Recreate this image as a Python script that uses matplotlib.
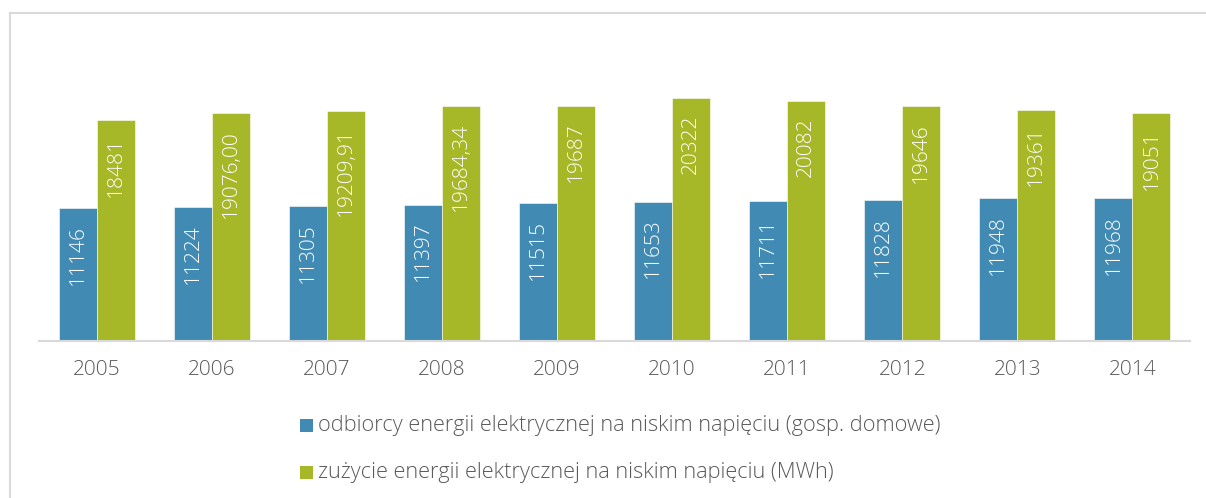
import matplotlib
matplotlib.use("Agg")
import matplotlib.pyplot as plt
from matplotlib.patches import Rectangle
from matplotlib.lines import Line2D
import numpy as np

years = ["2005", "2006", "2007", "2008", "2009", "2010", "2011", "2012", "2013", "2014"]
odbiorcy = [11146, 11224, 11305, 11397, 11515, 11653, 11711, 11828, 11948, 11968]
zuzycie = [18481, 19076.00, 19209.91, 19684.34, 19687, 20322, 20082, 19646, 19361, 19051]
zuzycie_labels = ["18481", "19076,00", "19209,91", "19684,34", "19687", "20322", "20082", "19646", "19361", "19051"]
odbiorcy_labels = [str(v) for v in odbiorcy]
series_names = ["odbiorcy energii elektrycznej na niskim napięciu (gosp. domowe)",
                "zużycie energii elektrycznej na niskim napięciu (MWh)"]

BLUE = "#418AB3"
GREEN = "#A6B727"
TXT = "#595959"

plt.rcParams['font.family'] = ['Open Sans', 'DejaVu Sans']
plt.rcParams['font.weight'] = 'light'

W, H = 1206, 498
fig = plt.figure(figsize=(W / 100, H / 100), dpi=100)

# outer chart border: only top and left edges are visible
fig.add_artist(Line2D([10 / W, 1.0], [(H - 13) / H] * 2, transform=fig.transFigure,
                      color="#D9D9D9", linewidth=1.5))
fig.add_artist(Line2D([10 / W] * 2, [0.0, (H - 13) / H], transform=fig.transFigure,
                      color="#D9D9D9", linewidth=1.5))

ax_left, ax_right = 39 / W, 1190 / W
ax_bottom = (H - 341) / H
ax_h = 298.8 / H
ax = fig.add_axes([ax_left, ax_bottom, ax_right - ax_left, ax_h])
ax.set_xlim(-0.5, len(years) - 0.5)
ax.set_ylim(0, 25000)

x = np.arange(len(years))
bw = 0.33
ax.bar(x - bw / 2, odbiorcy, bw, color=BLUE, edgecolor="white", linewidth=0.4)
ax.bar(x + bw / 2, zuzycie, bw, color=GREEN, edgecolor="white", linewidth=0.4)

pad = 17 / 0.01195
for xi, v, lab in zip(x - bw / 2, odbiorcy, odbiorcy_labels):
    ax.text(xi, v - pad, lab, rotation=90, ha="center", va="top", color="white", fontsize=15)
for xi, v, lab in zip(x + bw / 2, zuzycie, zuzycie_labels):
    ax.text(xi, v - pad, lab, rotation=90, ha="center", va="top", color="white", fontsize=15)

for s in ["top", "right", "left"]:
    ax.spines[s].set_visible(False)
ax.spines["bottom"].set_color("#D9D9D9")
ax.spines["bottom"].set_linewidth(1.5)
ax.set_yticks([])
ax.set_xticks(x)
ax.set_xticklabels(years, fontsize=15, color=TXT)
ax.tick_params(axis="x", length=0, pad=14)

# legend
for i, (name, col) in enumerate(zip(series_names, [BLUE, GREEN])):
    yc = [425, 472][i]
    fig.add_artist(Rectangle((300 / W, (H - yc - 6.5) / H), 13 / W, 13 / H,
                             transform=fig.transFigure, facecolor=col, edgecolor="none"))
    fig.text(318 / W, (H - yc) / H, name, ha="left", va="center", color=TXT, fontsize=15.7)

fig.savefig("out.png", dpi=100)
